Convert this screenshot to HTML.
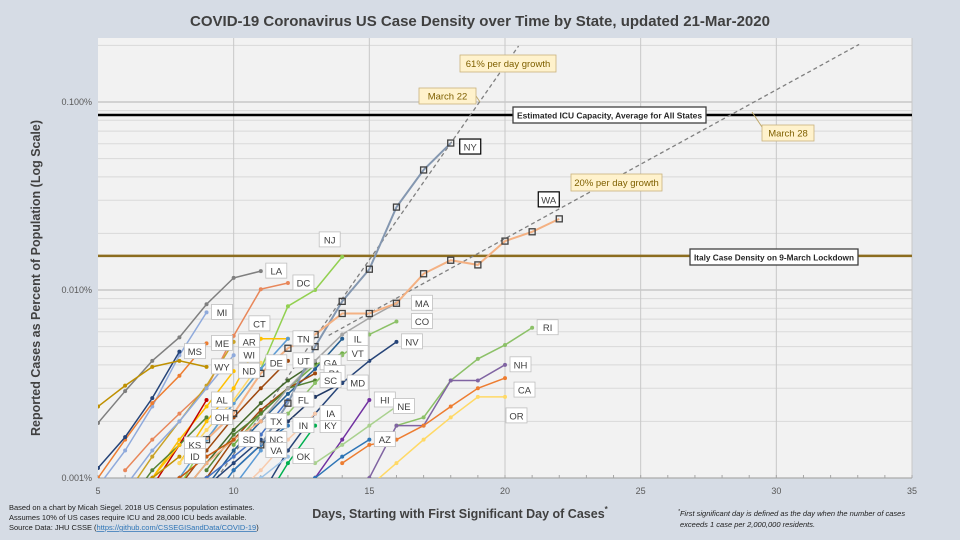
<!DOCTYPE html>
<html><head><meta charset="utf-8"><style>
body{margin:0;background:#d6dce5;}
svg{display:block;font-family:"Liberation Sans",sans-serif;}
</style></head><body>
<svg id="chart" width="960" height="540" viewBox="0 0 960 540">
<rect x="0" y="0" width="960" height="540" fill="#d6dce5"/>
<rect x="98" y="38" width="814" height="440" fill="#f2f2f2"/>
<g id="grid"></g>
<g id="refs"></g>
<g id="series" clip-path="url(#clip)"></g>
<g id="annot"></g>
<g id="labels"></g>
<defs><clipPath id="clip"><rect x="98" y="38" width="814" height="440"/></clipPath></defs>
<text x="480" y="26" text-anchor="middle" font-size="15" font-weight="bold" fill="#404040">COVID-19 Coronavirus US Case Density over Time by State, updated 21-Mar-2020</text>
<text transform="translate(40,278) rotate(-90)" text-anchor="middle" font-size="12.5" font-weight="bold" fill="#404040">Reported Cases as Percent of Population (Log Scale)</text>
<text x="460" y="518" text-anchor="middle" font-size="12.5" font-weight="bold" fill="#404040">Days, Starting with First Significant Day of Cases<tspan font-size="8" dy="-6">*</tspan></text>
<g font-size="7.5" fill="#202020">
<text x="9" y="510">Based on a chart by Micah Siegel.  2018 US Census population estimates.</text>
<text x="9" y="520">Assumes 10% of US cases require ICU and 28,000 ICU beds available.</text>
<text x="9" y="530">Source Data: JHU CSSE (<tspan fill="#2e75b6" text-decoration="underline">https://github.com/CSSEGISandData/COVID-19</tspan>)</text>
</g>
<g font-size="7.5" font-style="italic" fill="#202020">
<text x="678" y="516"><tspan font-size="5" dy="-3">*</tspan><tspan dy="3">First significant day is defined as the day when the number of cases</tspan></text>
<text x="680" y="527">exceeds 1 case per 2,000,000 residents.</text>
</g>
</svg>
<script>
const xTicks = [5,10,15,20,25,30,35];
const yTicks = [0.001,0.01,0.1];
const yTickLabels = ["0.001%","0.010%","0.100%"];
const icuCapacity = 0.0853;
const italyLockdown = 0.0152;
const growthFast = 1.61, growthFastRefDay = 18, growthFastRefVal = 0.0604, growthFastEnd = 20.5;
const growthSlow = 1.20, growthSlowRefDay = 21, growthSlowRefVal = 0.0225, growthSlowStart = 13.5, growthSlowEnd = 33.05;
const stateNames = ["LA","DC","MI","NJ","CT","AR","ME","MS","TN","WI","DE","UT","WY","ND","IL","VT","GA","PA","SC","MD","MA","CO","NV","AL","FL","HI","NE","OH","TX","IN","KY","IA","NC","SD","KS","ID","VA","OK","AZ","RI","NH","CA","OR","NY","WA"];
const stateStart = [5,6,5,8,8,6,5,5,8,6,8,8,5,7,9,10,8,9,9,10,11,12,11,6,9,12,13,6,8,9,11,10,8,7,6,6,9,10,12,16,15,14,15,11,9];
const stateValues = [
 [0.00196,0.0029,0.0042,0.0056,0.0084,0.0116,0.0126],
 [0.0011,0.0016,0.0022,0.0030,0.0057,0.0101,0.0109],
 [0.0009,0.0014,0.0024,0.0045,0.0076],
 [0.0009,0.0016,0.0025,0.0038,0.0082,0.0100,0.0150],
 [0.0012,0.0020,0.0030,0.0055,0.0055],
 [0.0008,0.0013,0.0020,0.0031,0.0053],
 [0.0010,0.0016,0.0025,0.0035,0.0052],
 [0.00113,0.00165,0.00266,0.0047],
 [0.0010,0.0016,0.0025,0.0038,0.0055],
 [0.0009,0.0014,0.0020,0.0030,0.0045],
 [0.0012,0.0018,0.0026,0.0041],
 [0.0009,0.0014,0.0021,0.0030,0.0042],
 [0.0024,0.0031,0.0039,0.0042,0.0039],
 [0.0010,0.0016,0.0024,0.0037],
 [0.0009,0.0014,0.0020,0.0028,0.0038,0.0055],
 [0.0015,0.0022,0.0030,0.0040,0.0046],
 [0.0008,0.0012,0.0018,0.0025,0.0033,0.0041],
 [0.0010,0.0016,0.0023,0.0030,0.0036],
 [0.0011,0.0017,0.0022,0.0030,0.0033],
 [0.0011,0.0015,0.0020,0.0027,0.0032],
 [0.0020,0.0030,0.0042,0.0058,0.0071,0.0085],
 [0.0022,0.0032,0.0045,0.0058,0.0068],
 [0.0008,0.0014,0.0022,0.0032,0.0042,0.0053],
 [0.0006,0.0009,0.0015,0.0026],
 [0.0010,0.0013,0.0017,0.0026],
 [0.0006,0.0010,0.0016,0.0026],
 [0.0012,0.0015,0.0019,0.0024],
 [0.0007,0.0011,0.0015,0.0021],
 [0.0008,0.0012,0.0016,0.0020],
 [0.0007,0.0011,0.0015,0.0019],
 [0.0007,0.0012,0.0019],
 [0.0008,0.0011,0.0016,0.0022],
 [0.0006,0.0009,0.0012,0.0016],
 [0.0008,0.0010,0.0013,0.0016],
 [0.0007,0.0010,0.0015],
 [0.0008,0.0010,0.0013],
 [0.0006,0.0009,0.0014],
 [0.0007,0.0010,0.0013],
 [0.0007,0.0010,0.0013,0.0016],
 [0.0019,0.0021,0.0033,0.0043,0.0051,0.0063],
 [0.0010,0.0019,0.0019,0.0033,0.0033,0.0040],
 [0.0012,0.0015,0.0016,0.0019,0.0024,0.0030,0.0034],
 [0.0009,0.0012,0.0016,0.0021,0.0027,0.0027],
 [0.0015,0.0025,0.0050,0.0087,0.0129,0.0276,0.0435,0.0605],
 [0.0016,0.0022,0.0036,0.0049,0.0058,0.0075,0.0075,0.0085,0.0122,0.0144,0.0136,0.0182,0.0204,0.0239]
];
const stateColors = ["#7f7f7f","#e8875a","#8faadc","#92d050","#ffc000","#c9a227","#ed7d31","#264478","#5b9bd5","#8faadc","#ffd966","#9e480e","#bf9000","#ffc000","#255e91","#70ad47","#43682b","#9e480e","#548235","#203864","#a5a5a5","#8cc168","#264478","#c00000","#4472c4","#7030a0","#a9d18e","#548235","#f4b183","#2e75b6","#00b050","#f8cbad","#264478","#c55a11","#ffc000","#bf9000","#5b9bd5","#9dc3e6","#2e75b6","#8cc168","#8064a2","#ed7d31","#ffd966","#8497b0","#f4b183"];
const labelNudge = {NJ:[-28,-17],CT:[-44,-15],PA:[4,0],MA:[10,0],CO:[10,0],NE:[-8,0],CA:[4,12],OR:[-4,19],NY:[4,4],WA:[-26,-19]};

const NS="http://www.w3.org/2000/svg";
const X0=98,X1=912,Y0=478,Y1=38,DEC=188;
function xs(d){return X0+(d-5)*(X1-X0)/30;}
function ys(v){return Y0-(Math.log10(v)+3)*DEC;}
function mk(tag,attrs,parent){const e=document.createElementNS(NS,tag);for(const k in attrs)e.setAttribute(k,attrs[k]);parent.appendChild(e);return e;}
const grid=document.getElementById('grid');
for(let dec=-3;dec<=-1;dec++){for(let m=1;m<=9;m++){const v=m*Math.pow(10,dec);const y=ys(v);if(y<Y1)continue;
 const l=mk('line',{x1:X0,x2:X1,y1:y,y2:y,stroke:m===1?'#bfbfbf':'#d9d9d9','stroke-width':m===1?1.3:1},grid);
 
 }}
xTicks.forEach(t=>{const x=xs(t);
 if(t>5){const l=mk('line',{x1:x,x2:x,y1:Y1,y2:Y0,stroke:'#c8c8c8','stroke-width':1},grid);
 
 }
 const tx=mk('text',{x:x,y:494,'text-anchor':'middle','font-size':9,fill:'#595959'},grid);tx.textContent=t;
 
 });
for(let d=5;d<=35;d++){mk('line',{x1:xs(d),x2:xs(d),y1:Y0,y2:Y0-3,stroke:'#a6a6a6'},grid);}
mk('line',{x1:X0,x2:X1,y1:Y0,y2:Y0,stroke:'#a6a6a6'},grid);
yTicks.forEach((t,i)=>{const tx=mk('text',{x:92,y:ys(t)+3,'text-anchor':'end','font-size':9,fill:'#595959'},grid);tx.textContent=yTickLabels[i];
 
 });

const refs=document.getElementById('refs');
const icu=mk('line',{x1:X0,x2:X1,y1:ys(icuCapacity),y2:ys(icuCapacity),stroke:'#000','stroke-width':2.5},refs);


const it=mk('line',{x1:X0,x2:X1,y1:ys(italyLockdown),y2:ys(italyLockdown),stroke:'#8c6d1f','stroke-width':2.5},refs);


function gv(d,g,rd,rv){return rv*Math.pow(g,d-rd);}
const fastStart=growthFastRefDay-Math.log(growthFastRefVal/0.001)/Math.log(growthFast);
const gf=mk('line',{x1:xs(fastStart),y1:ys(0.001),x2:xs(growthFastEnd),y2:ys(gv(growthFastEnd,growthFast,growthFastRefDay,growthFastRefVal)),stroke:'#7f7f7f','stroke-width':1.3,'stroke-dasharray':'4,3'},refs);


const gs=mk('line',{x1:xs(growthSlowStart),y1:ys(gv(growthSlowStart,growthSlow,growthSlowRefDay,growthSlowRefVal)),x2:xs(growthSlowEnd),y2:ys(gv(growthSlowEnd,growthSlow,growthSlowRefDay,growthSlowRefVal)),stroke:'#7f7f7f','stroke-width':1.3,'stroke-dasharray':'4,3'},refs);



const sg=document.getElementById('series'), lg=document.getElementById('labels');
stateNames.forEach((n,i)=>{
 const vals=stateValues[i],st=stateStart[i],c=stateColors[i];
 const pts=vals.map((v,j)=>[xs(st+j),ys(v)]);
 const sq=(n==='NY'||n==='WA');
 const pl=mk('polyline',{points:pts.map(p=>p.join(',')).join(' '),fill:'none',stroke:c,'stroke-width':sq?2:1.5},sg);
 
 
 pts.forEach(p=>{let m;
  if(sq)m=mk('rect',{x:p[0]-3,y:p[1]-3,width:6,height:6,fill:'none',stroke:'#404040','stroke-width':1.3},sg);
  else m=mk('circle',{cx:p[0],cy:p[1],r:2,fill:c},sg);
  
  });
 const e=pts[pts.length-1],nd=labelNudge[n]||[0,0];
 const w=n.length*7+7, lx=e[0]+5+nd[0], ly=e[1]+nd[1];
 const r=mk('rect',{x:lx,y:ly-8,width:w,height:15,fill:'#fff',stroke:sq?'#000':'#bfbfbf','stroke-width':sq?1.2:0.8},lg);
 
 
 const t=mk('text',{x:lx+w/2,y:ly+3.5,'text-anchor':'middle','font-size':9.5,fill:'#404040'},lg);t.textContent=n;
 
 
});

const an=document.getElementById('annot');
function box(x,y,w,h,txt,name,bg,bd,bold){
 const r=mk('rect',{x:x,y:y,width:w,height:h,fill:bg,stroke:bd,'stroke-width':bold?1.3:0.8},an);
 
 
 const attrs={x:x+w/2,y:y+h/2+3.5,'text-anchor':'middle','font-size':bold?8.5:9.5,fill:bold?'#262626':'#7f6000','font-weight':bold?'bold':'normal'};
 if(bold){attrs.textLength=w-8;attrs.lengthAdjust='spacingAndGlyphs';}
 const t=mk('text',attrs,an);t.textContent=txt;
 
 }
mk('line',{x1:476,y1:96,x2:480,y2:102,stroke:'#bfa86a'},an);
mk('line',{x1:762,y1:127,x2:752,y2:112,stroke:'#bfa86a'},an);
box(460,55,96,17,'61% per day growth','growth-61-annotation','#fff2cc','#c9b27c',false);
box(419,88,57,16,'March 22','march-22-annotation','#fff2cc','#c9b27c',false);
box(762,125,52,16,'March 28','march-28-annotation','#fff2cc','#c9b27c',false);
box(571,174,91,17,'20% per day growth','growth-20-annotation','#fff2cc','#c9b27c',false);
box(513,107,193,16,'Estimated ICU Capacity, Average for All States','icu-label','#fff','#404040',true);
box(690,249,168,16,'Italy Case Density on 9-March Lockdown','italy-label','#fff','#404040',true);
</script>
</body></html>
